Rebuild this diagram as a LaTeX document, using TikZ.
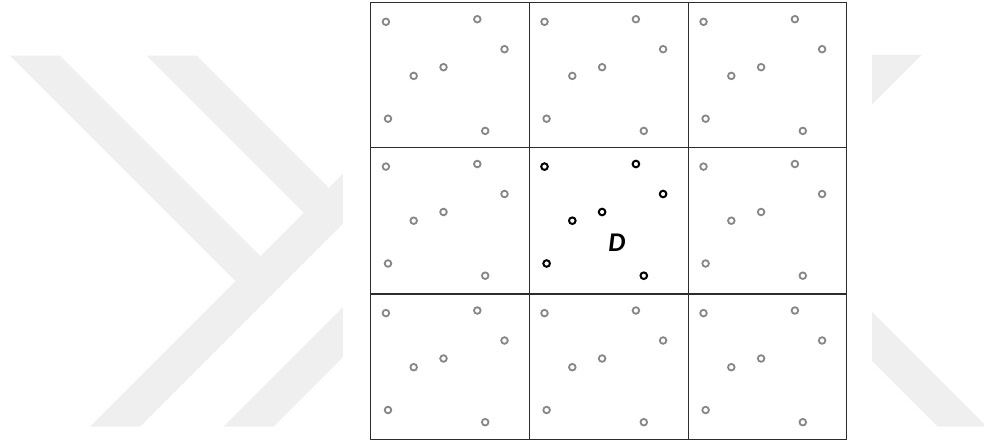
\documentclass[tikz,border=0pt]{standalone}
\usepackage{fontspec}
\newfontfamily\dfont{Carlito}
\definecolor{wm}{RGB}{239,239,239}
\definecolor{gridc}{RGB}{45,45,45}
\definecolor{ptgray}{RGB}{135,135,135}
\begin{document}
\begin{tikzpicture}[x=1pt,y=-1pt,
  cellline/.style={draw=gridc,line width=1.4pt},
  ptg/.style={circle,draw=ptgray,line width=1.8pt,minimum size=6.6pt,inner sep=0pt},
  ptb/.style={circle,draw=black,line width=2pt,minimum size=6.6pt,inner sep=0pt},
  wmark/.style={fill=wm,draw=none}]
\useasboundingbox (0,0) rectangle (984,444);
% faint watermark
\path[wmark] (10,55.7) -- (60,55.7) -- (260.5,256.2) -- (350,166.7) -- (350,216.7) -- (140,426.7) -- (90,426.7) -- (235.5,281.2) -- cycle;
\path[wmark] (146.7,55.7) -- (196.7,55.7) -- (353.85,212.85) -- (328.85,237.85) -- cycle;
\path[wmark] (223.3,426.7) -- (273.3,426.7) -- (350,350) -- (350,300) -- cycle;
\path[wmark] (871.7,55) -- (921.7,55) -- (860,116.7) -- (860,66.7) -- cycle;
\path[wmark] (860,300) -- (986.7,426.7) -- (937.7,426.7) -- (860,349) -- cycle;
\fill[white] (342.7,-1) rectangle (871.7,445);
% grid
\draw[cellline] (370.7,2.7) rectangle (846.7,439.3);
\draw[cellline] (529.3,2.7) -- (529.3,439.3);
\draw[cellline] (688.3,2.7) -- (688.3,439.3);
\draw[cellline] (370.7,147.5) -- (846.7,147.5);
\draw[cellline] (370.7,294) -- (846.7,294);
% points
\foreach \cx/\ci in {370.7/1,529.3/2,688.3/3}{
  \foreach \cy/\cj in {2.7/1,147.5/2,294/3}{
    \foreach \px/\py/\k in {15.2/19.1/1,106.6/16.5/2,133.8/46.5/3,72.8/64.5/4,43/73.2/5,17.3/116/6,114.5/128.2/7}{
      \ifnum\ci=2 \ifnum\cj=2
        \node[ptb] (p-\ci-\cj-\k) at (\cx+\px,\cy+\py) {};
      \else
        \node[ptg] (p-\ci-\cj-\k) at (\cx+\px,\cy+\py) {};
      \fi\else
        \node[ptg] (p-\ci-\cj-\k) at (\cx+\px,\cy+\py) {};
      \fi
    }
  }
}
\node[font=\dfont\bfseries\itshape\fontsize{27}{27}\selectfont,inner sep=0pt] (D) at (616.8,242.8) {D};
\end{tikzpicture}
\end{document}
